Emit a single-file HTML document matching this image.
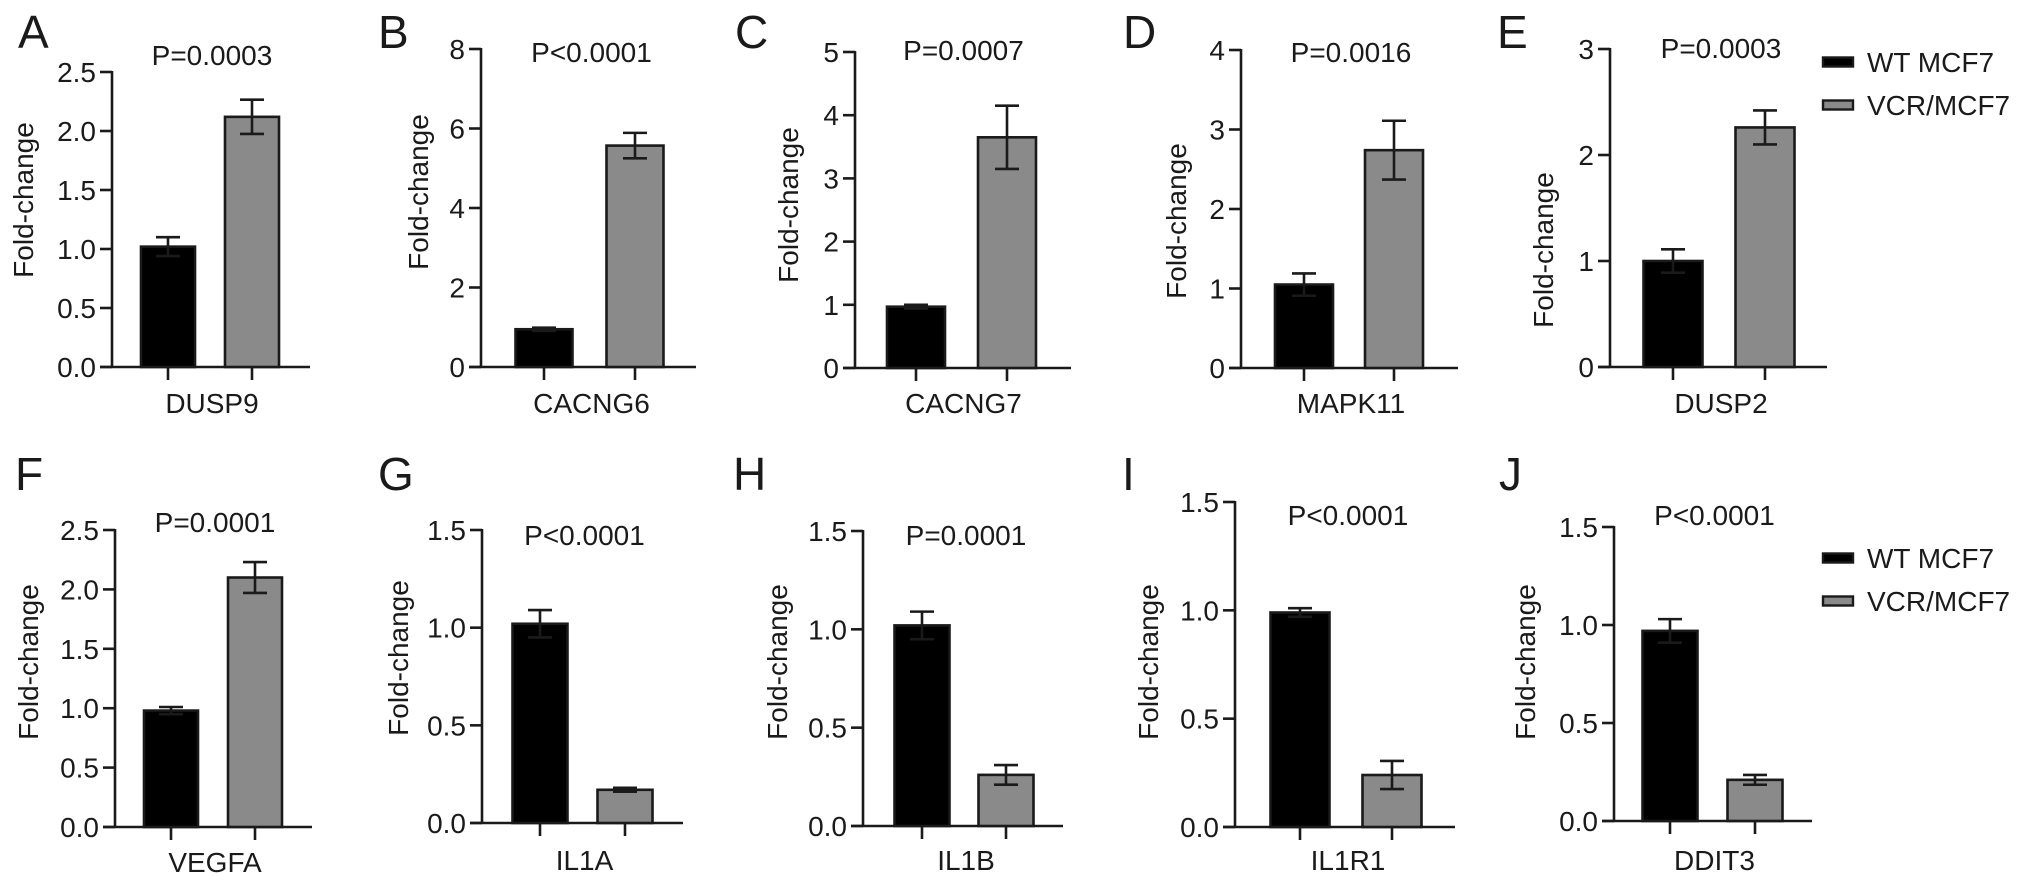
<!DOCTYPE html>
<html><head><meta charset="utf-8"><style>
html,body{margin:0;padding:0;background:#fff;}
svg{display:block;font-family:"Liberation Sans",Arial,sans-serif;}
</style></head><body>
<svg id="fig" width="2032" height="888" viewBox="0 0 2032 888" xmlns="http://www.w3.org/2000/svg"></svg>
<script>
// ---- data ----
const genes = ["DUSP9","CACNG6","CACNG7","MAPK11","DUSP2","VEGFA","IL1A","IL1B","IL1R1","DDIT3"];
const pLabels = ["P=0.0003","P<0.0001","P=0.0007","P=0.0016","P=0.0003","P=0.0001","P<0.0001","P=0.0001","P<0.0001","P<0.0001"];
const wtMean = [1.02,0.95,0.97,1.05,1.00,0.98,1.02,1.02,0.99,0.97];
const wtSD   = [0.08,0.04,0.03,0.14,0.11,0.03,0.07,0.07,0.02,0.06];
const vcrMean= [2.12,5.57,3.65,2.74,2.26,2.10,0.17,0.26,0.24,0.21];
const vcrSD  = [0.145,0.32,0.50,0.37,0.16,0.13,0.01,0.05,0.065,0.025];
const yMax   = [2.5,8,5,4,3,2.5,1.5,1.5,1.5,1.5];
const yTickLabels = [
 ["0.0","0.5","1.0","1.5","2.0","2.5"],["0","2","4","6","8"],["0","1","2","3","4","5"],
 ["0","1","2","3","4"],["0","1","2","3"],["0.0","0.5","1.0","1.5","2.0","2.5"],
 ["0.0","0.5","1.0","1.5"],["0.0","0.5","1.0","1.5"],["0.0","0.5","1.0","1.5"],["0.0","0.5","1.0","1.5"]];
const panelLetters = ["A","B","C","D","E","F","G","H","I","J"];
const legendLabels = ["WT MCF7","VCR/MCF7"];

// ---- layout (pixels) ----
const L = [
 {ax:112,top:72,zero:367,c1:168,c2:252,bw:54,end:310,lx:18,ly:48,fx:23,fy:200,py:65,cy:413},
 {ax:481,top:49,zero:367,c1:544,c2:635,bw:57,end:696,lx:378,ly:48,fx:418,fy:192,py:62,cy:413},
 {ax:855,top:52,zero:368,c1:916,c2:1007,bw:58,end:1071,lx:735,ly:48,fx:788,fy:205,py:60,cy:413},
 {ax:1241,top:50,zero:368,c1:1304,c2:1394,bw:58,end:1458,lx:1123,ly:48,fx:1176,fy:221,py:62,cy:413},
 {ax:1610,top:49,zero:367,c1:1673,c2:1765,bw:59,end:1827,lx:1497,ly:48,fx:1543,fy:250,py:58,cy:413},
 {ax:115,top:530,zero:827,c1:171,c2:255,bw:54,end:312,lx:15,ly:490,fx:28,fy:662,py:532,cy:872},
 {ax:482,top:530,zero:823,c1:540,c2:625,bw:55,end:683,lx:378,ly:490,fx:398,fy:658,py:545,cy:870},
 {ax:863,top:531,zero:826,c1:922,c2:1006,bw:55,end:1063,lx:733,ly:490,fx:777,fy:662,py:545,cy:870},
 {ax:1235,top:502,zero:827,c1:1300,c2:1392,bw:59,end:1455,lx:1122,ly:490,fx:1148,fy:662,py:525,cy:870},
 {ax:1614,top:527,zero:821,c1:1670,c2:1755,bw:55,end:1812,lx:1499,ly:490,fx:1525,fy:662,py:525,cy:870}
];
const NS="http://www.w3.org/2000/svg";
const svg=document.getElementById('fig');
function mk(tag,attrs,parent){const e=document.createElementNS(NS,tag);for(const k in attrs)e.setAttribute(k,attrs[k]);(parent||svg).appendChild(e);return e;}
const INK="#1a1a1a";

for(let i=0;i<genes.length;i++){
  const p=L[i];
  const g=mk('g',{});
  
  
  const y=v=>p.zero-(v/yMax[i])*(p.zero-p.top);
  // letter
  const lt=mk('text',{x:p.lx,y:p.ly,'font-size':46,fill:INK},g);lt.textContent=panelLetters[i];
  
  
  // ylabel
  const yl=mk('text',{x:0,y:0,'font-size':28,fill:INK,'text-anchor':'middle',transform:`translate(${p.fx+10},${p.fy}) rotate(-90)`},g);yl.textContent="Fold-change";
  
  
  // axes
  const ya=mk('line',{x1:p.ax,y1:p.top-1,x2:p.ax,y2:p.zero,stroke:INK,'stroke-width':2.6},g);
  
  
  const n=yTickLabels[i].length;
  for(let k=0;k<n;k++){
    const v=yMax[i]*k/(n-1);const yy=y(v);
    const tk=mk('line',{x1:p.ax-12,y1:yy,x2:p.ax,y2:yy,stroke:INK,'stroke-width':2.6},g);
    
    
    const tl=mk('text',{x:p.ax-16,y:yy+10,'font-size':28,fill:INK,'text-anchor':'end'},g);tl.textContent=yTickLabels[i][k];
    
    
  }
  const xa=mk('line',{x1:p.ax-12,y1:p.zero,x2:p.end,y2:p.zero,stroke:INK,'stroke-width':2.6},g);
  
  
  // bars
  const series=[[p.c1,wtMean[i],wtSD[i],'#000','bar-wt'],[p.c2,vcrMean[i],vcrSD[i],'#8a8a8a','bar-vcr']];
  for(const [c,m,sd,fill,name] of series){
    const b=mk('rect',{x:c-p.bw/2,y:y(m),width:p.bw,height:p.zero-y(m),fill:fill,stroke:INK,'stroke-width':2.6},g);
    
    
    const e=mk('path',{d:`M${c},${y(m-sd)}V${y(m+sd)}M${c-12},${y(m+sd)}H${c+12}M${c-12},${y(m-sd)}H${c+12}`,stroke:INK,'stroke-width':2.6,fill:'none'},g);
    
    
    const t=mk('line',{x1:c,y1:p.zero,x2:c,y2:p.zero+13,stroke:INK,'stroke-width':2.6},g);
    
    
  }
  const mid=(p.c1+p.c2)/2;
  const pt=mk('text',{x:mid+2,y:p.py,'font-size':28,fill:INK,'text-anchor':'middle'},g);pt.textContent=pLabels[i];
  
  
  const ct=mk('text',{x:mid+2,y:p.cy,'font-size':28,fill:INK,'text-anchor':'middle'},g);ct.textContent=genes[i];
  
  
}
// legends
for(const ly of [62,558]){
  const lg=mk('g',{});
  
  
  [['#000',0],['#8a8a8a',43]].forEach(([f,dy],j)=>{
    const s=mk('rect',{x:1823,y:ly+dy-4.5,width:30,height:9,fill:f,stroke:INK,'stroke-width':2.4},lg);
    
    
    const t=mk('text',{x:1867,y:ly+dy+10,'font-size':28,fill:INK},lg);t.textContent=legendLabels[j];
    
    
  });
}
</script>
</body></html>
